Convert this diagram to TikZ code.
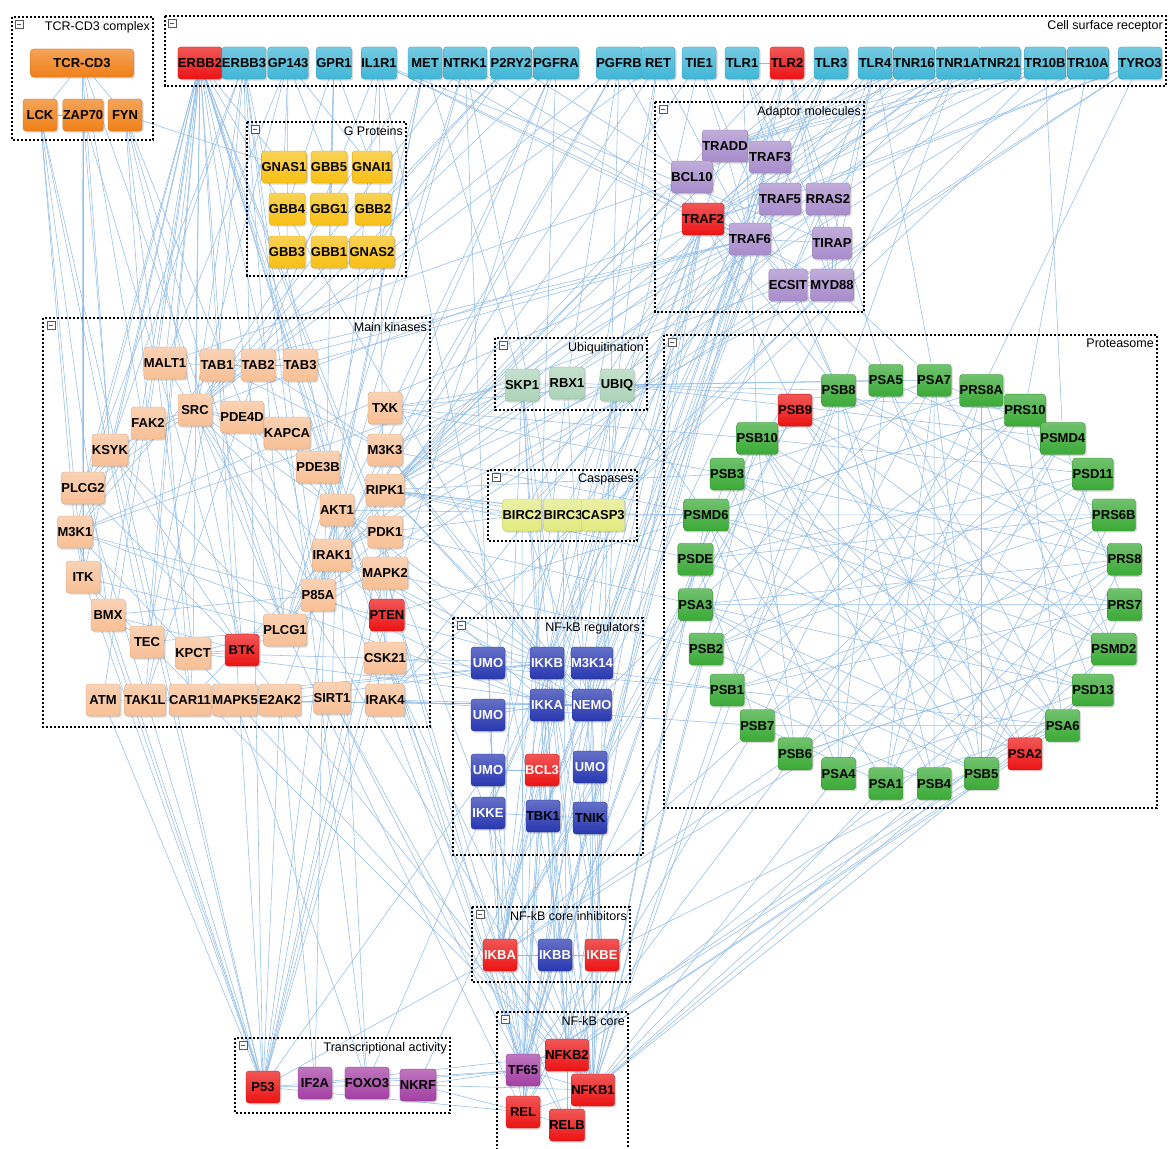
\documentclass[tikz,border=0pt]{standalone}
\usepackage{fontspec}
\setmainfont{Liberation Sans}
\usetikzlibrary{backgrounds,shadows}

\definecolor{csrc}{RGB}{64,182,214}
\definecolor{tcrc}{RGB}{240,128,24}
\definecolor{gpc}{RGB}{248,192,20}
\definecolor{adc}{RGB}{168,140,204}
\definecolor{kinc}{RGB}{248,192,150}
\definecolor{ubc}{RGB}{172,212,184}
\definecolor{casc}{RGB}{226,234,128}
\definecolor{regc}{RGB}{40,56,176}
\definecolor{protc}{RGB}{58,170,54}
\definecolor{hitc}{RGB}{236,20,20}
\definecolor{trc}{RGB}{164,64,164}
\definecolor{linkc}{RGB}{146,190,232}

\tikzset{
  gene/.style={rounded corners=3pt, minimum width=34pt, minimum height=32pt, inner sep=0pt,
    top color=#1!72!white, bottom color=#1, draw=#1!85!black, line width=0.3pt,
    font=\bfseries\fontsize{13}{13}\selectfont,
    drop shadow={opacity=0.3, shadow xshift=1.5pt, shadow yshift=-1.5pt}},
  grp/.style={draw=black, line width=2.6pt, dash pattern=on 2.2pt off 1.8pt},
  grpt/.style={font=\fontsize{12.5}{13}\selectfont, inner sep=1pt, anchor=north east},
  minus/.style={draw=gray!70!black, fill=white, minimum size=8pt, inner sep=0pt, line width=0.5pt,
    path picture={\draw[line width=0.6pt] ([xshift=1.6pt]path picture bounding box.west)
      -- ([xshift=-1.6pt]path picture bounding box.east);}},
  link/.style={draw=linkc, line width=0.55pt}
}

\begin{document}
\begin{tikzpicture}[x=1pt,y=-1pt]
\useasboundingbox (0,0) rectangle (1169,1148);

% group frames
\draw[grp] (12,17) rectangle (153,140);
\node[grpt] (tcrT) at (151,20) {TCR-CD3 complex};
\node[minus] (tcrM) at (19,24) {};
\draw[grp] (165,16) rectangle (1166,86);
\node[grpt] (csrT) at (1164,19) {Cell surface receptor};
\node[minus] (csrM) at (172,23) {};
\draw[grp] (247,122) rectangle (406,276);
\node[grpt] (gpT) at (404,125) {G Proteins};
\node[minus] (gpM) at (255,129) {};
\draw[grp] (655,102) rectangle (864,312);
\node[grpt] (adT) at (862,105) {Adaptor molecules};
\node[minus] (adM) at (663,109) {};
\draw[grp] (43,318) rectangle (430,727);
\node[grpt] (kinT) at (428,321) {Main kinases};
\node[minus] (kinM) at (51,325) {};
\draw[grp] (495,338) rectangle (647,410);
\node[grpt] (ubT) at (645,341) {Ubiquitination};
\node[minus] (ubM) at (503,345) {};
\draw[grp] (488,470) rectangle (637,541);
\node[grpt] (casT) at (635,473) {Caspases};
\node[minus] (casM) at (496,477) {};
\draw[grp] (664,335) rectangle (1157,808);
\node[grpt] (protT) at (1155,338) {Proteasome};
\node[minus] (protM) at (672,342) {};
\draw[grp] (453,618) rectangle (643,855);
\node[grpt] (regT) at (641,621) {NF-kB regulators};
\node[minus] (regM) at (461,625) {};
\draw[grp] (472,907) rectangle (630,982);
\node[grpt] (inhT) at (628,910) {NF-kB core inhibitors};
\node[minus] (inhM) at (480,914) {};
\draw[grp] (235,1038) rectangle (450,1113);
\node[grpt] (trT) at (448,1041) {Transcriptional activity};
\node[minus] (trM) at (243,1045) {};
\draw[grp] (497,1012) rectangle (628,1152);
\node[grpt] (coreT) at (626,1015) {NF-kB core};
\node[minus] (coreM) at (505,1019) {};

% TCR-CD3 complex
\node[gene=tcrc, minimum width=103pt, minimum height=28pt] (tcr) at (82,63) {TCR-CD3};
\node[gene=tcrc] (LCK) at (40,115) {LCK};
\node[gene=tcrc] (ZAP70) at (83,115) {ZAP70};
\node[gene=tcrc] (FYN) at (125,115) {FYN};

% cell surface receptors
\foreach \lbl/\px/\col in {ERBB2/200/hitc,ERBB3/244/csrc,GP143/288/csrc,GPR1/334/csrc,IL1R1/379/csrc,
  MET/425/csrc,NTRK1/465/csrc,P2RY2/511/csrc,PGFRA/556/csrc,PGFRB/619/csrc,RET/658/csrc,TIE1/699/csrc,
  TLR1/742/csrc,TLR2/787/hitc,TLR3/831/csrc,TLR4/875/csrc,TNR16/914/csrc,TNR1A/958/csrc,TNR21/1000/csrc,
  TR10B/1045/csrc,TR10A/1088/csrc,TYRO3/1140/csrc}
  \node[gene=\col] (\lbl) at (\px,63) {\lbl};

% G proteins
\foreach \lbl/\px/\py in {GNAS1/284/167,GBB5/329/167,GNAI1/372/167,GBB4/287/209,GBG1/329/209,
  GBB2/373/209,GBB3/287/252,GBB1/329/252,GNAS2/372/252}
  \node[gene=gpc] (\lbl) at (\px,\py) {\lbl};

% adaptor molecules
\foreach \lbl/\px/\py/\col in {TRADD/725/146/adc,TRAF3/770/157/adc,BCL10/692/177/adc,TRAF5/780/199/adc,
  RRAS2/828/199/adc,TRAF2/703/219/hitc,TRAF6/750/239/adc,TIRAP/832/243/adc,ECSIT/788/285/adc,MYD88/832/285/adc}
  \node[gene=\col] (\lbl) at (\px,\py) {\lbl};

% main kinases
\foreach \lbl/\px/\py/\col in {MALT1/165/363/kinc,TAB1/217/365/kinc,TAB2/258/365/kinc,TAB3/300/365/kinc,
  SRC/195/410/kinc,PDE4D/242/417/kinc,FAK2/148/423/kinc,KAPCA/287/433/kinc,TXK/385/408/kinc,
  KSYK/110/450/kinc,M3K3/385/450/kinc,PDE3B/318/467/kinc,PLCG2/83/488/kinc,RIPK1/385/490/kinc,
  AKT1/337/510/kinc,PDK1/385/532/kinc,M3K1/75/532/kinc,IRAK1/332/555/kinc,ITK/83/577/kinc,
  MAPK2/385/573/kinc,P85A/318/595/kinc,BMX/108/615/kinc,PTEN/387/615/hitc,PLCG1/285/630/kinc,
  TEC/147/642/kinc,BTK/242/650/hitc,KPCT/193/653/kinc,CSK21/385/658/kinc,ATM/103/700/kinc,
  TAK1L/145/700/kinc,CAR11/190/700/kinc,MAPK5/235/700/kinc,E2AK2/280/700/kinc,SIRT1/332/698/kinc,
  IRAK4/385/700/kinc}
  \node[gene=\col] (\lbl) at (\px,\py) {\lbl};

% ubiquitination and caspases
\node[gene=ubc] (SKP1) at (522,385) {SKP1};
\node[gene=ubc] (RBX1) at (567,383) {RBX1};
\node[gene=ubc] (UBIQ) at (617,385) {UBIQ};
\node[gene=casc] (BIRC2) at (522,515) {BIRC2};
\node[gene=casc] (BIRC3) at (563,515) {BIRC3};
\node[gene=casc] (CASP3) at (603,515) {CASP3};

% NF-kB regulators
\node[gene=regc, text=white] (sumoA) at (488,663) {UMO};
\node[gene=regc, text=white] (IKKB) at (547,663) {IKKB};
\node[gene=regc, text=white] (M3K14) at (592,663) {M3K14};
\node[gene=regc, text=white] (sumoB) at (488,715) {UMO};
\node[gene=regc, text=white] (IKKA) at (547,705) {IKKA};
\node[gene=regc, text=white] (NEMO) at (592,705) {NEMO};
\node[gene=regc, text=white] (sumoC) at (488,770) {UMO};
\node[gene=hitc, text=white] (BCL3) at (542,770) {BCL3};
\node[gene=regc, text=white] (sumoD) at (590,767) {UMO};
\node[gene=regc, text=white] (IKKE) at (488,813) {IKKE};
\node[gene=regc] (TBK1) at (543,816) {TBK1};
\node[gene=regc] (TNIK) at (590,818) {TNIK};

% NF-kB core inhibitors
\node[gene=hitc, text=white] (IKBA) at (500,955) {IKBA};
\node[gene=regc, text=white] (IKBB) at (555,955) {IKBB};
\node[gene=hitc, text=white] (IKBE) at (602,955) {IKBE};

% transcriptional activity
\node[gene=hitc] (P53) at (263,1087) {P53};
\node[gene=trc] (IF2A) at (315,1083) {IF2A};
\node[gene=trc] (FOXO3) at (367,1083) {FOXO3};
\node[gene=trc] (NKRF) at (418,1085) {NKRF};

% NF-kB core
\node[gene=trc] (TF65) at (523,1070) {TF65};
\node[gene=hitc] (NFKB2) at (567,1055) {NFKB2};
\node[gene=hitc] (NFKB1) at (593,1090) {NFKB1};
\node[gene=hitc] (REL) at (523,1112) {REL};
\node[gene=hitc] (RELB) at (567,1125) {RELB};

% proteasome ring
\foreach \lbl/\col [count=\i from 0] in {PSA7/protc,PRS8A/protc,PRS10/protc,PSMD4/protc,PSD11/protc,
  PRS6B/protc,PRS8/protc,PRS7/protc,PSMD2/protc,PSD13/protc,PSA6/protc,PSA2/hitc,PSB5/protc,PSB4/protc,
  PSA1/protc,PSA4/protc,PSB6/protc,PSB7/protc,PSB1/protc,PSB2/protc,PSA3/protc,PSDE/protc,PSMD6/protc,
  PSB3/protc,PSB10/protc,PSB9/hitc,PSB8/protc,PSA5/protc}
{
  \node[gene=\col] (\lbl) at ({910+216*sin(6.43+12.857*\i)},{582-203*cos(6.43+12.857*\i)}) {\lbl};
  \coordinate (pr\i) at (\lbl.center);
}

\begin{pgfonlayer}{background}
\fill[white] (0,0) rectangle (1169,1148);
% TCR-CD3
\foreach \a/\b in {tcr/LCK,tcr/ZAP70,tcr/FYN,LCK/ZAP70,FYN/GNAS1,tcr/ITK,tcr/KSYK,ZAP70/PLCG2,ZAP70/KSYK,
  LCK/M3K1,LCK/ITK,LCK/P53,tcr/PLCG1,FYN/SRC,FYN/FAK2,FYN/PLCG1,tcr/CAR11,LCK/BMX,FYN/KPCT,ZAP70/ITK,
  LCK/TEC,FYN/P85A,ZAP70/BTK}
  \draw[link] (\a) -- (\b);
% receptors
\foreach \a/\b in {ERBB2/SRC,ERBB2/PLCG1,ERBB2/PLCG2,ERBB2/AKT1,ERBB2/P85A,ERBB2/PTEN,ERBB2/KSYK,
  ERBB2/FAK2,ERBB2/M3K1,ERBB2/ITK,ERBB2/BMX,ERBB2/TEC,ERBB2/P53,ERBB2/ERBB3,ERBB2/MALT1,ERBB2/KPCT,
  ERBB2/BTK,ERBB2/CSK21,ERBB2/PDK1,ERBB2/GNAS1,ERBB2/NFKB1,ERBB2/ATM,ERBB2/TAK1L,ERBB2/IKKB,ERBB2/TF65,
  ERBB3/SRC,ERBB3/P85A,ERBB3/AKT1,ERBB3/PLCG1,ERBB3/KSYK,ERBB3/P53,ERBB3/TAB1,ERBB3/PLCG2,ERBB3/FOXO3,
  GP143/GNAS1,GP143/GBB5,GP143/GNAI1,GP143/MALT1,GP143/SRC,GP143/GBB3,
  GPR1/GNAI1,GPR1/GBB4,GPR1/GBB1,GPR1/IF2A,GPR1/GBG1,
  IL1R1/TRAF6,IL1R1/MYD88,IL1R1/IRAK1,IL1R1/IRAK4,IL1R1/TIRAP,IL1R1/TAB2,IL1R1/NFKB1,
  MET/SRC,MET/P85A,MET/PLCG1,MET/AKT1,MET/TRAF2,MET/SKP1,
  NTRK1/PLCG1,NTRK1/SRC,NTRK1/P85A,NTRK1/TRAF6,NTRK1/IKBA,NTRK1/NEMO,
  P2RY2/GNAS2,P2RY2/GBB2,P2RY2/SRC,P2RY2/BCL10,
  PGFRA/P85A,PGFRA/PLCG1,PGFRA/SRC,PGFRA/PTEN,PGFRA/TF65,
  PGFRB/P85A,PGFRB/PLCG1,PGFRB/SRC,PGFRB/TRAF2,PGFRB/NFKB1,PGFRB/RBX1,
  RET/SRC,RET/PLCG1,RET/TRAF6,RET/UBIQ,RET/IKKB,
  TIE1/P85A,TIE1/TRADD,TIE1/IKBA,TIE1/PSB8,
  TLR1/MYD88,TLR1/TIRAP,TLR1/TRAF6,TLR1/TRAF3,TLR1/TLR2,
  TLR2/MYD88,TLR2/TIRAP,TLR2/RIPK1,TLR2/TF65,TLR2/IKKB,TLR2/TRAF6,TLR2/PSA5,
  TLR3/TRAF6,TLR3/RIPK1,TLR3/TRAF3,TLR3/IKKE,TLR3/TBK1,TLR3/BCL10,
  TLR4/MYD88,TLR4/TIRAP,TLR4/TRAF6,TLR4/ECSIT,TLR4/PSA7,TLR4/TRAF2,
  TNR16/TRAF6,TNR16/TRAF2,TNR16/RIPK1,TNR16/TRADD,TNR16/BCL10,
  TNR1A/TRADD,TNR1A/TRAF2,TNR1A/RIPK1,TNR1A/IKBA,TNR1A/NFKB1,TNR1A/BIRC2,TNR1A/TRAF5,
  TNR21/TRADD,TNR21/TRAF2,TNR21/TRAF6,TNR21/TRAF3,
  TR10B/TRADD,TR10B/RIPK1,TR10B/CASP3,TR10B/TRAF2,TR10B/PSMD4,
  TR10A/TRADD,TR10A/CASP3,TR10A/RIPK1,TR10A/PRS10,
  TYRO3/P85A,TYRO3/PLCG1,TYRO3/SRC,TYRO3/TRAF5,TYRO3/PRS8A}
  \draw[link] (\a) -- (\b);
% adaptor molecules
\foreach \a/\b in {TRADD/TRAF2,TRADD/RIPK1,BCL10/MALT1,BCL10/CAR11,BCL10/TRAF6,BCL10/TRADD,TRAF2/RIPK1,
  TRAF2/BIRC2,TRAF2/BIRC3,TRAF2/IKKB,TRAF2/NEMO,TRAF2/M3K14,TRAF2/TNIK,TRAF2/CASP3,TRAF2/TRAF6,
  TRAF6/TAB2,TRAF6/TAB3,TRAF6/IRAK1,TRAF6/ECSIT,TRAF6/NEMO,TRAF6/IKKB,TRAF6/UBIQ,TRAF6/TBK1,TRAF6/M3K1,
  TRAF6/TAB1,TRAF6/M3K3,TRAF6/IRAK4,TRAF6/sumoA,TRAF3/M3K14,TRAF3/TBK1,TRAF3/IKKE,TRAF3/TNIK,TRAF3/TRAF2,
  TRAF5/NEMO,TRAF5/M3K14,TRAF5/TRAF2,RRAS2/NKRF,RRAS2/TRAF6,TIRAP/MYD88,MYD88/IRAK1,MYD88/IRAK4,
  ECSIT/MYD88,ECSIT/M3K1,TIRAP/IRAK1,TIRAP/TRAF6,MYD88/TRAF6,TRADD/TRAF6,TRAF2/PSB8,TRAF6/PSA5,
  ECSIT/PSB8,MYD88/PSA7,TRAF6/TF65,TRAF2/NFKB2}
  \draw[link] (\a) -- (\b);
% main kinases
\foreach \a/\b in {MALT1/CAR11,MALT1/TAB1,TAB1/TAB2,TAB2/TAB3,TAB1/TAB3,SRC/FAK2,SRC/PDE4D,SRC/KAPCA,
  SRC/AKT1,SRC/P85A,SRC/PLCG1,SRC/KSYK,SRC/BTK,SRC/PLCG2,SRC/TEC,KAPCA/PDE3B,KAPCA/PDE4D,PDE3B/AKT1,
  AKT1/PDK1,AKT1/P85A,AKT1/PTEN,PDK1/P85A,PDK1/PTEN,IRAK1/IRAK4,IRAK1/P85A,KSYK/PLCG2,KSYK/BTK,
  PLCG2/BTK,M3K1/ITK,ITK/PLCG1,BMX/P85A,TEC/PLCG1,KPCT/CAR11,KPCT/PLCG1,KPCT/BTK,FAK2/PLCG2,FAK2/M3K1,
  KSYK/PLCG1,M3K1/TAB1,ITK/TEC,BMX/TEC,M3K1/MAPK5,PDE4D/AKT1,KAPCA/AKT1,SRC/PTEN,BTK/PLCG1,TAB1/M3K3,
  TAB2/M3K3,TAK1L/TAB1,TAK1L/TAB2,CSK21/PTEN,MAPK2/P85A,SIRT1/AKT1,E2AK2/P85A,BTK/BMX}
  \draw[link] (\a) -- (\b);
\foreach \a/\b in {M3K3/IKKB,M3K3/NEMO,RIPK1/NEMO,RIPK1/IKKB,AKT1/IKKA,AKT1/IKKB,IRAK1/NEMO,CSK21/IKBA,
  CSK21/TF65,ATM/NEMO,ATM/P53,SIRT1/TF65,SIRT1/P53,E2AK2/IKKB,M3K1/IKKB,M3K1/IKKA,TAK1L/IKKB,TAK1L/NEMO,
  TXK/SKP1,TXK/UBIQ,M3K3/SKP1,RIPK1/UBIQ,RIPK1/BIRC2,RIPK1/BIRC3,RIPK1/CASP3,PDK1/BIRC2,MAPK2/TF65,
  MAPK2/IKBA,PTEN/P53,IRAK4/TF65,IRAK4/NEMO,IRAK1/IKKB,M3K14/NFKB2,MAPK5/FOXO3,AKT1/FOXO3,IKKB/FOXO3,
  AKT1/P53,PDK1/P53,MAPK2/P53,M3K1/P53,ITK/P53,KSYK/P53,PLCG2/P53,E2AK2/IF2A,E2AK2/P53,CSK21/P53,
  M3K3/PSMD6,RIPK1/PSDE,TXK/PSB3,PDK1/PSA3,MAPK2/PSB2,CSK21/PSB1,IRAK4/PSB7,PTEN/PSMD6,TXK/PSB10,
  MALT1/NFKB1,CAR11/IKKB,CAR11/NEMO,BMX/P53,TEC/NFKB1,KPCT/NEMO,KPCT/IKKB,BTK/NFKB1,PLCG1/REL,
  MAPK5/NFKB1,SIRT1/RELB,CSK21/NFKB1,P85A/IKKA}
  \draw[link] (\a) -- (\b);
% regulators, inhibitors, core
\foreach \a/\b in {IKKB/IKBA,IKKB/IKBB,IKKB/IKBE,IKKA/IKBA,IKKA/NFKB2,NEMO/IKKB,NEMO/IKKA,IKKB/IKKA,
  IKKB/TF65,IKKA/TF65,M3K14/IKKA,IKKE/TBK1,TBK1/TNIK,BCL3/NFKB1,BCL3/NFKB2,sumoA/NEMO,sumoB/IKKA,
  sumoC/BCL3,sumoD/NEMO,IKKE/TF65,TBK1/TF65,TNIK/NFKB1,NEMO/TF65,M3K14/REL,IKKE/IKBA,NEMO/IKBE,
  sumoA/IKBA,sumoB/TF65,sumoC/P53,IKKB/NFKB1,NEMO/NFKB1,BCL3/REL,TNIK/IKBB,
  IKBA/TF65,IKBA/NFKB1,IKBA/REL,IKBA/RELB,IKBB/TF65,IKBB/REL,IKBE/TF65,IKBE/REL,IKBE/NFKB1,IKBA/IKBB,
  IKBB/IKBE,IKBA/NFKB2,IKBB/NFKB1,IKBE/RELB,
  TF65/NFKB1,TF65/NFKB2,TF65/REL,NFKB1/REL,NFKB2/RELB,NFKB1/RELB,REL/RELB,NFKB2/NFKB1,
  NKRF/TF65,NKRF/NFKB1,NKRF/REL,P53/TF65,FOXO3/TF65,IF2A/NFKB2,P53/IKBA,P53/REL,P53/NKRF}
  \draw[link] (\a) -- (\b);
% ubiquitination, caspases, proteasome
\foreach \a/\b in {SKP1/RBX1,RBX1/UBIQ,SKP1/IKBA,SKP1/IKBB,SKP1/IKBE,RBX1/IKBA,UBIQ/IKBA,UBIQ/NEMO,
  UBIQ/PSMD4,UBIQ/TRAF2,UBIQ/NFKB1,SKP1/NFKB1,UBIQ/PSA7,UBIQ/PSB8,UBIQ/PSA5,RBX1/IKBE,SKP1/NFKB2,
  UBIQ/IKKB,UBIQ/PRS10,UBIQ/PSMD6,
  BIRC2/BIRC3,BIRC2/NEMO,CASP3/IKBA,CASP3/RIPK1,BIRC3/IKKE,BIRC2/TF65,CASP3/REL,BIRC3/NFKB2,CASP3/PSMD6,
  PSMD6/NFKB1,PSDE/NFKB1,PSA3/IKBA,PSB2/NFKB1,PSB1/NFKB1,PSB7/IKBA,PSB6/NFKB2,PSA4/NFKB1,PSA1/NFKB1,
  PSB4/NFKB1,PSB5/TF65,PSA2/NFKB2,PSA6/IKBE,PSD13/NFKB1,PSMD2/NFKB1,PSB9/IKBA,PSB10/NFKB1,PSB3/TF65,
  PSA3/NEMO,PSB2/IKBB,PSB1/IKKB,PSDE/TF65,PSMD6/AKT1,PSB3/RIPK1,PSB10/TRAF6,PSB9/TRAF2,PRS7/NFKB2,
  PRS8/IKBA,PSA6/NFKB2,PSD13/TF65,PSB7/REL,PSB6/IKBA}
  \draw[link] (\a) -- (\b);
% proteasome mesh
\foreach \i in {0,...,27} {
  \pgfmathtruncatemacro\ja{mod(\i+3+mod(5*\i,7),28)}
  \pgfmathtruncatemacro\jb{mod(\i+8+mod(3*\i,6),28)}
  \pgfmathtruncatemacro\jc{mod(\i+12+mod(\i,3),28)}
  \draw[link] (pr\i) -- (pr\ja);
  \draw[link] (pr\i) -- (pr\jb);
  \draw[link] (pr\i) -- (pr\jc);
}
\draw[link] (PSMD6) -- (PRS6B);
\draw[link] (PSB7) -- (PSA6);
\draw[link] (PSA7) -- (PSB4);
\draw[link] (PSB10) -- (PSA2);
\end{pgfonlayer}
\end{tikzpicture}
\end{document}
